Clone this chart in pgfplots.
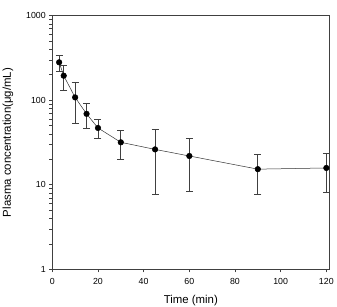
\documentclass[border=0pt]{standalone}
\usepackage{pgfplots}
\pgfplotsset{compat=1.18}
\usepackage{fontspec}
\setmainfont{Liberation Sans}

% Mean plasma concentration with SD, per sampling time
\pgfplotstableread{
t    c      e
3    281    60
5    195    63
10   108    55
15   69     22
20   47     12
30   31.8   12
45   26.2   18.5
60   21.9   13.5
90   15.3   7.7
120  15.8   7.6
}\conc

\begin{document}
\begin{tikzpicture}[x=1pt,y=1pt]
\path[use as bounding box] (0,0) rectangle (337,307);
\begin{axis}[
  at={(52.3pt,37.7pt)}, anchor=south west,
  width=277pt, height=253.6pt, scale only axis,
  ymode=log, ymin=1, ymax=1000,
  xmin=0, xmax=121.3,
  xtick={0,20,...,120},
  ytick={1,10,100,1000},
  yticklabels={1,10,100,1000},
  minor ytick={},
  log ticks with fixed point,
  tick align=outside,
  tick pos=left,
  major tick length=3pt,
  axis line style={black!75, line width=0.8pt},
  every tick/.style={black!75, line width=0.6pt},
  tick label style={font=\fontsize{8.8}{10}\selectfont},
  xticklabel style={yshift=-2.5pt},
  /pgf/number format/assume math mode=true,
  xlabel={Time (min)},
  ylabel={Plasma concentration(μg/mL)},
  label style={font=\fontsize{11.4}{13}\selectfont},
  xlabel style={at={(axis description cs:0.5,0)}, anchor=center, yshift=-31.3pt},
  ylabel style={at={(axis description cs:0,0.5)}, anchor=center, yshift=44.3pt},
  clip=false,
]
\addplot[black!80, line width=0.5pt,
  mark=*, mark size=2.8pt, mark options={fill=black, draw=black},
  error bars/.cd, y dir=both, y explicit,
  error bar style={black!75, line width=0.7pt},
  error mark options={rotate=90, mark size=3.5pt, black!75, line width=0.7pt}]
  table[x=t, y=c, y error=e] {\conc};
\end{axis}
\end{tikzpicture}
\end{document}
